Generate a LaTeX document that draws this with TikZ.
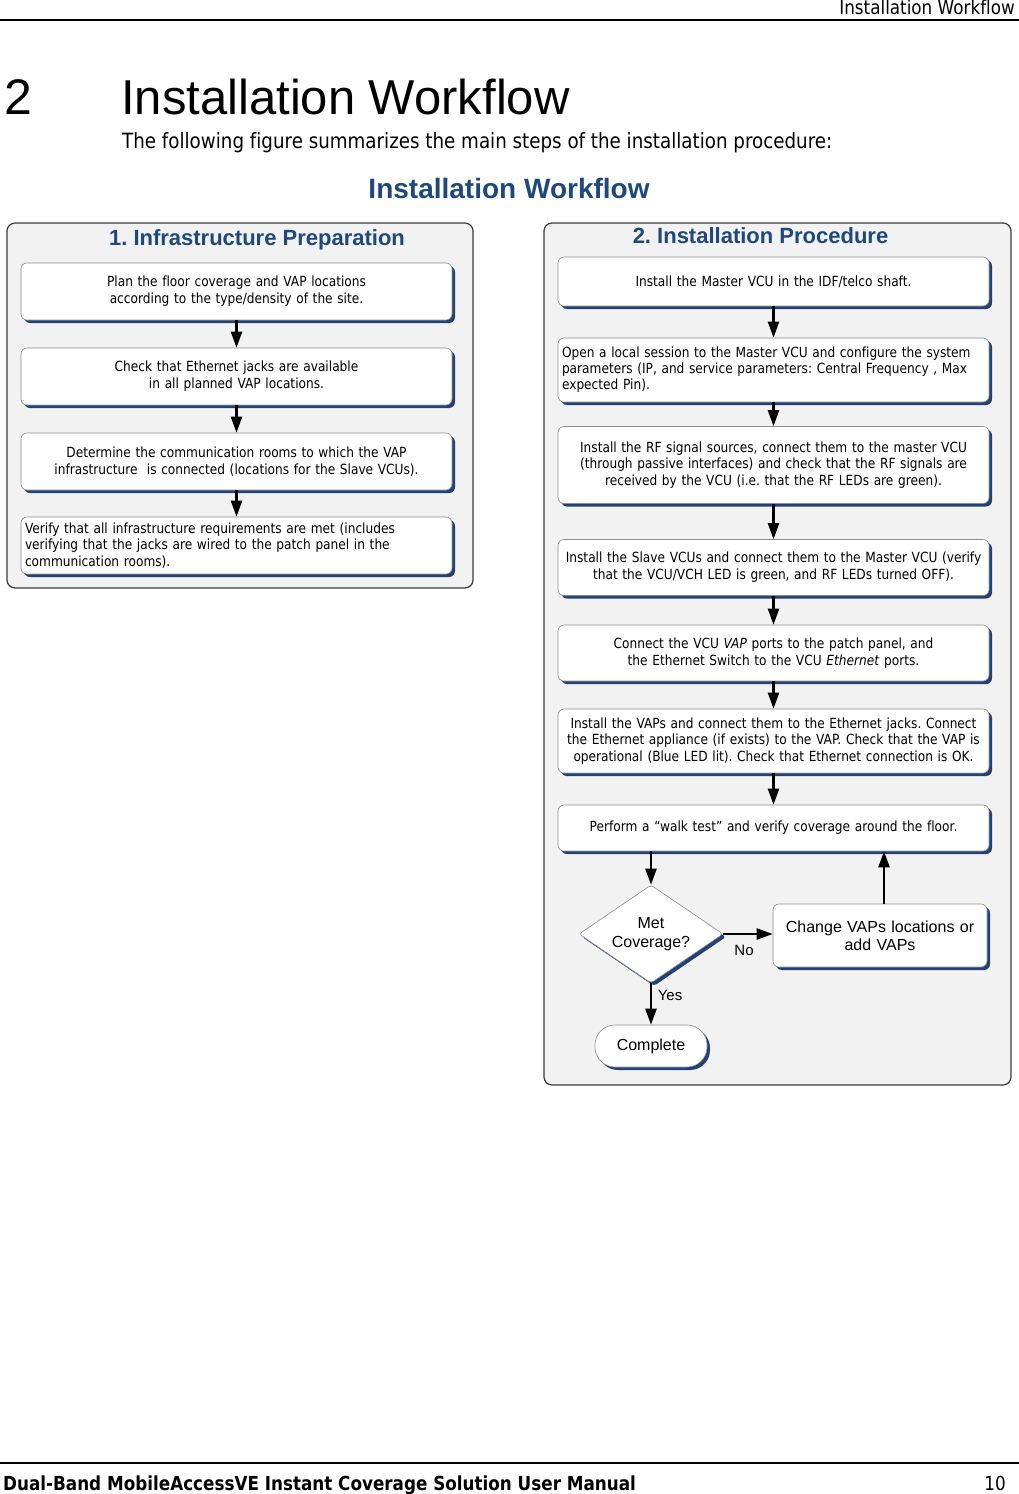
\documentclass[tikz,border=0pt]{standalone}
\usepackage{fontspec}
\setmainfont{Liberation Sans}
\newfontfamily\boxfont[FakeStretch=0.87,Ligatures=NoCommon]{DejaVu Sans}
\newfontfamily\arialf{Liberation Sans}
\usetikzlibrary{shapes.geometric,shadows,arrows.meta}
\definecolor{panelfill}{RGB}{242,242,242}
\definecolor{panelborder}{RGB}{60,60,60}
\definecolor{titleblue}{RGB}{31,73,125}
\definecolor{shadowblue}{RGB}{35,65,115}
\definecolor{boxborder}{RGB}{140,140,140}
\newcommand{\fs}[2]{\fontsize{#1pt}{#2pt}\selectfont}
\begin{document}
\frenchspacing
\begin{tikzpicture}[x=1pt,y=-1pt,
  panel/.style={draw=panelborder,fill=panelfill,line width=1.2pt,rounded corners=8pt,inner sep=0pt},
  paneltitle/.style={text=titleblue,font=\arialf\bfseries\fs{22}{24},inner sep=0pt},
  shad/.style={drop shadow={shadow xshift=3pt,shadow yshift=-3pt,fill=shadowblue,opacity=1}},
  stepbox/.style={shad,draw=boxborder,line width=0.6pt,fill=white,rounded corners=6pt,
     text width=423pt,inner xsep=4pt,inner ysep=0pt,minimum width=431pt,align=center,
     font=\boxfont\fs{14}{16.8}},
  leftbox/.style={stepbox,align=left},
  decision/.style={shad,diamond,aspect=1.47,draw=boxborder,line width=0.6pt,fill=white,
     rounded corners=3pt,minimum width=144pt,minimum height=98pt,inner sep=0pt,align=center,
     font=\arialf\fs{16}{19}},
  bigbox/.style={shad,draw=boxborder,line width=0.6pt,fill=white,rounded corners=6pt,
     text width=206pt,inner xsep=4pt,inner ysep=0pt,align=center,font=\arialf\fs{16}{18}},
  endbox/.style={shad,draw=boxborder,line width=0.6pt,fill=white,rounded corners=20pt,
     minimum width=112pt,minimum height=42pt,inner sep=0pt,font=\arialf\fs{16}{18}},
  lbl/.style={font=\arialf\fs{15}{17},inner sep=0pt},
  flow/.style={-{Triangle[length=16pt,width=11pt]},line width=2.2pt,black}]
\useasboundingbox (0,0) rectangle (1019,1494);
\fill[white] (0,0) rectangle (1019,1494);

% page header
\node[anchor=base east,inner sep=0pt,font=\boxfont\fs{19.3}{21}] (hdr) at (1015,14) {Installation Workflow};
\draw[line width=1.2pt] (0,20) -- (1019,20);
\node[anchor=base west,inner sep=0pt,font=\arialf\fs{50}{55}] (num) at (4,114) {2};
\node[anchor=base west,inner sep=0pt,font=\arialf\fs{49}{55}] (ttl) at (121,114) {Installation Workflow};
\node[anchor=base west,inner sep=0pt,font=\boxfont\fs{21}{24}] (intro) at (122,148) {The following figure summarizes the main steps of the installation procedure:};
\node[anchor=base,inner sep=0pt,text=titleblue,font=\arialf\bfseries\fs{28}{32}] (ftitle) at (509,198) {Installation Workflow};

% panels
\node[panel,minimum width=466pt,minimum height=365pt] (lp) at (240,405.5) {};
\node[panel,minimum width=467pt,minimum height=862pt] (rp) at (777.5,654) {};
\node[paneltitle] (lt) at (257,240) {1. Infrastructure Preparation};
\node[paneltitle] (rt) at (760.5,236) {2. Installation Procedure};

% left boxes
\node[stepbox,minimum height=57pt] (l1) at (236.5,291.5) {Plan the floor coverage and VAP locations\\according to the type/density of the site.};
\node[stepbox,minimum height=57pt] (l2) at (236.5,376.5) {Check that Ethernet jacks are available\\in all planned VAP locations.};
\node[stepbox,minimum height=57pt] (l3) at (236.5,461.5) {Determine the communication rooms to which the VAP\\infrastructure\ \ is connected (locations for the Slave VCUs).};
\node[leftbox,minimum height=57pt,font=\boxfont\fs{14}{16.5}] (l4) at (236.5,545.5) {Verify that all infrastructure requirements are met (includes\\verifying that the jacks are wired to the patch panel in the\\communication rooms).};
\draw[flow] (l1) -- (l2);
\draw[flow] (l2) -- (l3);
\draw[flow] (l3) -- (l4);

% right boxes
\node[stepbox,minimum height=49pt] (r1) at (773.5,281.5) {Install the Master VCU in the IDF/telco shaft.};
\node[leftbox,minimum height=64pt,font=\boxfont\fs{14}{16}] (r2) at (773.5,370) {Open a local session to the Master VCU and configure the system\\parameters (IP, and service parameters: Central Frequency , Max\\expected Pin).};
\node[stepbox,minimum height=77pt] (r3) at (773.5,465) {Install the RF signal sources, connect them to the master VCU\\(through passive interfaces) and check that the RF signals are\\received by the VCU (i.e. that the RF LEDs are green).};
\node[stepbox,minimum height=56pt] (r4) at (773.5,567.5) {Install the Slave VCUs and connect them to the Master VCU (verify\\that the VCU/VCH LED is green, and RF LEDs turned OFF).};
\node[stepbox,minimum height=56pt] (r5) at (773.5,653) {Connect the VCU \textit{VAP} ports to the patch panel, and\\the Ethernet Switch to the VCU \textit{Ethernet} ports.};
\node[stepbox,minimum height=64pt] (r6) at (773.5,741) {Install the VAPs and connect them to the Ethernet jacks. Connect\\the Ethernet appliance (if exists) to the VAP. Check that the VAP is\\operational (Blue LED lit). Check that Ethernet connection is OK.};
\node[stepbox,minimum height=46pt] (r7) at (773.5,828) {Perform a \textquotedblleft walk test\textquotedblright\ and verify coverage around the floor.};
\draw[flow] (r1) -- (r2);
\draw[flow] (r2) -- (r3);
\draw[flow] (r3) -- (r4);
\draw[flow] (r4) -- (r5);
\draw[flow] (r5) -- (r6);
\draw[flow] (r6) -- (r7);

% decision part
\node[decision] (dec) at (651,934) {Met\\Coverage?};
\node[bigbox,minimum height=63pt] (chg) at (880,935.5) {Change VAPs locations or\\add VAPs};
\node[endbox] (done) at (651,1046) {Complete};
\draw[flow] (dec.north |- r7.south) -- (dec.north);
\draw[flow] (dec.east) -- (dec.east -| chg.west);
\draw[flow] (chg.north -| 884,0) -- (r7.south -| 884,0);
\draw[flow] (dec.south) -- (done.north);
\node[lbl] (no) at (744,950) {No};
\node[lbl] (yes) at (670,995) {Yes};

% footer
\draw[line width=1.2pt] (0,1463) -- (1019,1463);
\node[anchor=base west,inner sep=0pt,font=\boxfont\bfseries\fs{19.3}{21}] (foot) at (3,1490) {Dual-Band MobileAccessVE Instant Coverage Solution User Manual};
\node[anchor=base east,inner sep=0pt,font=\boxfont\fs{19.3}{21}] (page) at (1006,1490) {10};
\end{tikzpicture}
\end{document}
